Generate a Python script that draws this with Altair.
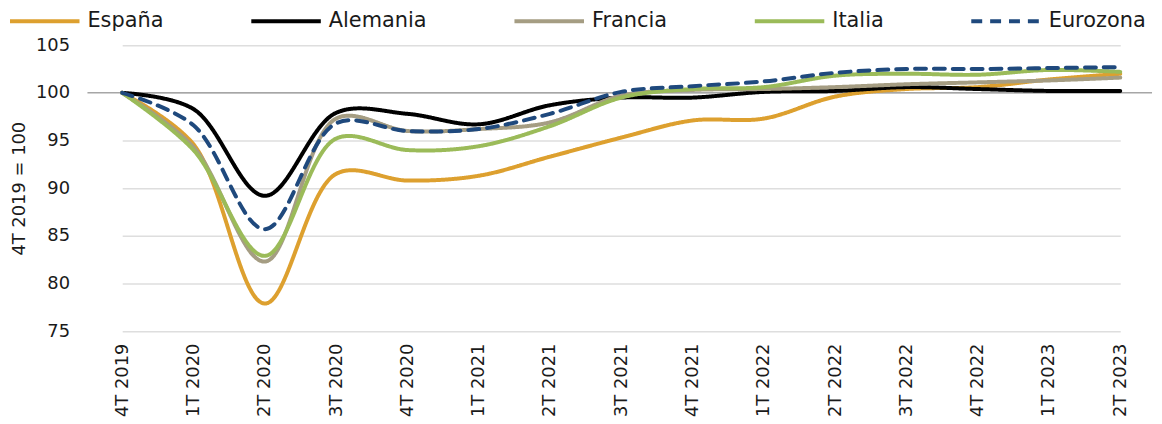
import altair as alt
import pandas as pd

categories = ["4T 2019", "1T 2020", "2T 2020", "3T 2020", "4T 2020", "1T 2021", "2T 2021",
              "3T 2021", "4T 2021", "1T 2022", "2T 2022", "3T 2022", "4T 2022", "1T 2023", "2T 2023"]
espana = [100, 94.6, 77.9, 91.5, 90.8, 91.3, 93.3, 95.3, 97.1, 97.3, 99.6, 100.4, 100.6, 101.4, 102.0]
alemania = [100, 98.3, 89.2, 97.9, 97.8, 96.7, 98.7, 99.5, 99.5, 100.1, 100.2, 100.6, 100.4, 100.2, 100.2]
francia = [100, 94.3, 82.3, 97.3, 96.0, 96.2, 96.9, 99.7, 100.3, 100.4, 100.6, 100.9, 101.1, 101.3, 101.6]
italia = [100, 94.0, 82.9, 95.2, 94.0, 94.4, 96.5, 99.5, 100.4, 100.6, 101.8, 102.0, 101.9, 102.4, 102.2]
eurozona = [100, 96.6, 85.7, 96.8, 96.0, 96.2, 97.8, 100.1, 100.7, 101.2, 102.1, 102.5, 102.5, 102.6, 102.7]

series = ["España", "Alemania", "Francia", "Italia", "Eurozona"]
colors = ["#DDA02F", "#000000", "#A59D83", "#9BBB59", "#1F497D"]
dashes = [[1, 0], [1, 0], [1, 0], [1, 0], [11, 8]]
base_value = 100

values = [espana, alemania, francia, italia, eurozona]
rows = []
for k, (s, vals) in enumerate(zip(series, values)):
    for c, v in zip(categories, vals):
        rows.append({"serie": s, "trimestre": c, "valor": v, "orden": k})
df = pd.DataFrame(rows)

FONT = "DejaVu Sans"

legend = alt.Legend(
    title=None, orient="none", legendX=-80, legendY=-61, direction="horizontal", columns=5,
    symbolType="stroke", symbolSize=4900, symbolStrokeWidth=4, labelFontSize=21,
    labelFont=FONT, labelColor="#1a1a1a", columnPadding=80, labelOffset=6, labelLimit=300,
)

ref = alt.Chart(pd.DataFrame({"v": [base_value]})).mark_rule(color="#a6a6a6", strokeWidth=1.5).encode(
    y=alt.Y("v:Q", scale=alt.Scale(domain=[75, 105]))
)

lines = alt.Chart(df).mark_line(interpolate="catmull-rom", strokeWidth=4, strokeCap="round").encode(
    x=alt.X("trimestre:N", sort=categories, scale=alt.Scale(type="point", range=[35, 1040], padding=0),
            axis=alt.Axis(title=None, labelAngle=270, labelFontSize=18, labelFont=FONT,
                          labelColor="#1a1a1a", labelPadding=12, ticks=False, domain=False, grid=False)),
    y=alt.Y("valor:Q", scale=alt.Scale(domain=[75, 105], nice=False, zero=False),
            axis=alt.Axis(title="4T 2019 = 100", values=[75, 80, 85, 90, 95, 100, 105],
                          labelFontSize=18, labelFont=FONT, labelColor="#1a1a1a", labelPadding=18,
                          titleFontSize=18, titleFont=FONT, titleFontWeight="normal",
                          titleColor="#1a1a1a", titlePadding=7,
                          ticks=False, domain=False, grid=True, gridColor="#dedede", gridWidth=1.5)),
    color=alt.Color("serie:N", scale=alt.Scale(domain=series, range=colors), legend=legend),
    strokeDash=alt.StrokeDash("serie:N", scale=alt.Scale(domain=series, range=dashes), legend=legend),
    order=alt.Order("orden:Q"),
    detail="serie:N",
)

chart = (alt.layer(ref, lines)
         .properties(width=1072, height=288,
                     autosize=alt.AutoSizeParams(type="none"),
                     padding={"left": 80, "top": 36, "right": 2, "bottom": 88})
         .configure_view(stroke=None))

chart.save("out.html", embed_options={"renderer": "svg", "actions": False})
